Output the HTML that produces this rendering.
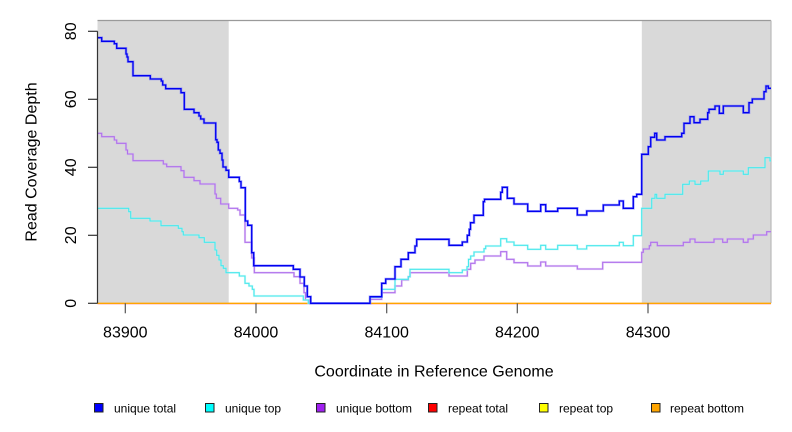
<!DOCTYPE html>
<html><head><meta charset="utf-8"><style>
html,body{margin:0;padding:0;background:#fff;}
svg{display:block;}
text{font-family:"Liberation Sans",Arial,sans-serif;fill:#000;}
</style></head><body>
<svg width="792" height="432" viewBox="0 0 792 432" xmlns="http://www.w3.org/2000/svg">
<rect x="0" y="0" width="792" height="432" fill="#fff"/>
<rect x="97.5" y="20.5" width="131.2" height="282.8" fill="#d9d9d9"/>
<rect x="641.8" y="20.5" width="129.2" height="282.8" fill="#d9d9d9"/>
<line x1="97.5" y1="20.5" x2="771" y2="20.5" stroke="#9a9a9a" stroke-width="1.2"/>
<line x1="771" y1="20.5" x2="771" y2="303.3" stroke="#bbbbbb" stroke-width="1.2"/>

<line x1="97.5" y1="304" x2="771" y2="304" stroke="#ff0000" stroke-opacity="0.3" stroke-width="1"/>
<line x1="97.5" y1="303.3" x2="771" y2="303.3" stroke="#ffa500" stroke-width="1.3"/>

<path fill="none" stroke="#d2b0f2" stroke-width="2.2" stroke-opacity="0.55" d="M97.5 133.3 H101.7 V136.7 H114.3 V140 H116.7 V143.3 H126 V150 H127.5 V154 H133 V160.7 H163.3 V164 H166.7 V166.7 H181 V170.7 H184 V177.3 H194 V180.7 H200 V184 H215 V194 H216.3 V198.3 H220.7 V204 H228.7 V208.3 H237.7 V210 H240 V215 H245 V242.3 H251.7 V258 H254.3 V272.7 H294 V276.7 H300 V283.3 H304 V292.7 H305.5 V300 H309 V303.3 H370 V299.3 H381.7 V292.7 H395 V286 H401.7 V280 H408.3 V276.7 H410 V272.7 H449 V276 H467.3 V269.3 H470.7 V263.3 H475 V260 H484 V256 H500.7 V251.7 H506.7 V259.3 H514 V262.7 H527.7 V266 H540.7 V262 H545.7 V266 H577.3 V269 H602.7 V262.3 H641.7 V252.3 H643.3 V249 H649.3 V245.7 H650.7 V242.3 H657.3 V245.7 H683.3 V242.3 H690 V239 H695 V242.3 H714 V239 H722.7 V242.3 H727.3 V239 H743.3 V242.3 H748 V239 H753.3 V235 H766.7 V231.7 H771"/>
<path fill="none" stroke="#b070ec" stroke-width="1.1" d="M97.5 133.3 H101.7 V136.7 H114.3 V140 H116.7 V143.3 H126 V150 H127.5 V154 H133 V160.7 H163.3 V164 H166.7 V166.7 H181 V170.7 H184 V177.3 H194 V180.7 H200 V184 H215 V194 H216.3 V198.3 H220.7 V204 H228.7 V208.3 H237.7 V210 H240 V215 H245 V242.3 H251.7 V258 H254.3 V272.7 H294 V276.7 H300 V283.3 H304 V292.7 H305.5 V300 H309 V303.3 H370 V299.3 H381.7 V292.7 H395 V286 H401.7 V280 H408.3 V276.7 H410 V272.7 H449 V276 H467.3 V269.3 H470.7 V263.3 H475 V260 H484 V256 H500.7 V251.7 H506.7 V259.3 H514 V262.7 H527.7 V266 H540.7 V262 H545.7 V266 H577.3 V269 H602.7 V262.3 H641.7 V252.3 H643.3 V249 H649.3 V245.7 H650.7 V242.3 H657.3 V245.7 H683.3 V242.3 H690 V239 H695 V242.3 H714 V239 H722.7 V242.3 H727.3 V239 H743.3 V242.3 H748 V239 H753.3 V235 H766.7 V231.7 H771"/>

<path fill="none" stroke="#b0f6f6" stroke-width="2.2" stroke-opacity="0.55" d="M97.5 208.3 H128.7 V211.7 H130.7 V218.3 H150 V221 H161 V225.7 H178.3 V228.3 H182 V231.7 H183.3 V235 H199 V237.7 H204.3 V242.3 H215 V250 H216.7 V255.3 H219 V260 H221 V265.7 H223.3 V268.3 H226 V272.7 H239.3 V276 H245 V283.3 H249 V286 H252.3 V289.3 H254 V296 H303.3 V300 H308.3 V303.3 H370 V297.3 H381.7 V289.3 H395 V279.3 H408.3 V276.7 H410 V269.3 H449 V272.7 H462.3 V270 H467 V266.7 H468.5 V259.3 H470.7 V256 H474 V252 H484 V248.7 H485.7 V246 H500.7 V238.7 H506.7 V242 H514 V245.3 H527.7 V249.3 H540.7 V245.3 H545.7 V249.3 H557.7 V245.3 H577.3 V249 H586.7 V245.7 H619.3 V242.3 H623.3 V245.7 H633.3 V235.7 H641.7 V208.3 H651.7 V198.3 H655 V194.3 H656.7 V198.3 H665 V194.3 H682.7 V184.3 H689.3 V181 H695 V184.3 H700.7 V181 H708.3 V171 H720 V174.3 H723.3 V171 H743.3 V174.3 H748.3 V167.7 H765 V157.7 H770 V161 H771"/>
<path fill="none" stroke="#48e8ec" stroke-width="1.1" d="M97.5 208.3 H128.7 V211.7 H130.7 V218.3 H150 V221 H161 V225.7 H178.3 V228.3 H182 V231.7 H183.3 V235 H199 V237.7 H204.3 V242.3 H215 V250 H216.7 V255.3 H219 V260 H221 V265.7 H223.3 V268.3 H226 V272.7 H239.3 V276 H245 V283.3 H249 V286 H252.3 V289.3 H254 V296 H303.3 V300 H308.3 V303.3 H370 V297.3 H381.7 V289.3 H395 V279.3 H408.3 V276.7 H410 V269.3 H449 V272.7 H462.3 V270 H467 V266.7 H468.5 V259.3 H470.7 V256 H474 V252 H484 V248.7 H485.7 V246 H500.7 V238.7 H506.7 V242 H514 V245.3 H527.7 V249.3 H540.7 V245.3 H545.7 V249.3 H557.7 V245.3 H577.3 V249 H586.7 V245.7 H619.3 V242.3 H623.3 V245.7 H633.3 V235.7 H641.7 V208.3 H651.7 V198.3 H655 V194.3 H656.7 V198.3 H665 V194.3 H682.7 V184.3 H689.3 V181 H695 V184.3 H700.7 V181 H708.3 V171 H720 V174.3 H723.3 V171 H743.3 V174.3 H748.3 V167.7 H765 V157.7 H770 V161 H771"/>

<path fill="none" stroke="#7070ff" stroke-width="2.6" stroke-opacity="0.6" d="M97.5 37.7 H101.7 V41.3 H114.3 V43.7 H116.7 V48.3 H126 V54 H127 V57 H128 V61.7 H133 V75.7 H150.3 V79 H161.3 V81 H162.7 V85 H165.7 V88.7 H181 V92.7 H184.3 V109.3 H194 V112.7 H199 V116 H200.7 V119 H204 V123 H215.7 V139.7 H217 V142.3 H218.3 V150 H220 V153.3 H222 V160 H223 V167 H226 V170.3 H228.7 V177.3 H239.3 V181.5 H241 V187.7 H245.3 V221 H247.7 V225.3 H251.7 V252.7 H253.7 V265.7 H293.3 V269.3 H300 V277 H304.3 V286 H307.3 V296.7 H310.7 V303.3 H370 V296.7 H381.7 V283.3 H385.7 V279 H395 V266.7 H401 V259.3 H408.3 V252.7 H415 V246 H416.7 V239.3 H449 V245.3 H462.3 V242 H467.3 V235.3 H469.3 V229.3 H470.5 V222.7 H474 V215.3 H483.3 V201.7 H484.5 V199.3 H500.7 V192.3 H502.3 V187.3 H507.3 V198.3 H514 V204 H527.7 V211.3 H540.7 V204.7 H545.7 V211.3 H557.7 V208.3 H577.3 V215 H586.7 V211 H603.3 V205 H619.3 V201 H623.3 V208.3 H633.3 V196.7 H636.7 V194.3 H641.7 V154.3 H648.3 V146.7 H650.7 V137.3 H654.7 V133.3 H656.7 V140 H665 V136.7 H681.7 V133.3 H684 V123.3 H690 V116.7 H694 V122.7 H700 V119.3 H707.7 V112.7 H709 V109.3 H715 V106 H719.3 V113.3 H723.3 V106 H743.3 V112.7 H749 V102.7 H752.3 V99 H764 V91.7 H766 V86 H768.3 V88.3 H771"/>
<path fill="none" stroke="#0000f0" stroke-width="1.3" d="M97.5 37.7 H101.7 V41.3 H114.3 V43.7 H116.7 V48.3 H126 V54 H127 V57 H128 V61.7 H133 V75.7 H150.3 V79 H161.3 V81 H162.7 V85 H165.7 V88.7 H181 V92.7 H184.3 V109.3 H194 V112.7 H199 V116 H200.7 V119 H204 V123 H215.7 V139.7 H217 V142.3 H218.3 V150 H220 V153.3 H222 V160 H223 V167 H226 V170.3 H228.7 V177.3 H239.3 V181.5 H241 V187.7 H245.3 V221 H247.7 V225.3 H251.7 V252.7 H253.7 V265.7 H293.3 V269.3 H300 V277 H304.3 V286 H307.3 V296.7 H310.7 V303.3 H370 V296.7 H381.7 V283.3 H385.7 V279 H395 V266.7 H401 V259.3 H408.3 V252.7 H415 V246 H416.7 V239.3 H449 V245.3 H462.3 V242 H467.3 V235.3 H469.3 V229.3 H470.5 V222.7 H474 V215.3 H483.3 V201.7 H484.5 V199.3 H500.7 V192.3 H502.3 V187.3 H507.3 V198.3 H514 V204 H527.7 V211.3 H540.7 V204.7 H545.7 V211.3 H557.7 V208.3 H577.3 V215 H586.7 V211 H603.3 V205 H619.3 V201 H623.3 V208.3 H633.3 V196.7 H636.7 V194.3 H641.7 V154.3 H648.3 V146.7 H650.7 V137.3 H654.7 V133.3 H656.7 V140 H665 V136.7 H681.7 V133.3 H684 V123.3 H690 V116.7 H694 V122.7 H700 V119.3 H707.7 V112.7 H709 V109.3 H715 V106 H719.3 V113.3 H723.3 V106 H743.3 V112.7 H749 V102.7 H752.3 V99 H764 V91.7 H766 V86 H768.3 V88.3 H771"/>

<g stroke="#333" stroke-width="1.2">
<line x1="97.5" y1="31.3" x2="97.5" y2="303.3"/>
<line x1="88" y1="303.3" x2="97.5" y2="303.3"/>
<line x1="88" y1="235.3" x2="97.5" y2="235.3"/>
<line x1="88" y1="167.3" x2="97.5" y2="167.3"/>
<line x1="88" y1="99.3" x2="97.5" y2="99.3"/>
<line x1="88" y1="31.3" x2="97.5" y2="31.3"/>
</g>
<g font-size="16" text-anchor="middle">
<text transform="translate(76,303.3) rotate(-90)">0</text>
<text transform="translate(76,235.3) rotate(-90)">20</text>
<text transform="translate(76,167.3) rotate(-90)">40</text>
<text transform="translate(76,99.3) rotate(-90)">60</text>
<text transform="translate(76,31.3) rotate(-90)">80</text>
<text transform="translate(36.5,162) rotate(-90)">Read Coverage Depth</text>
</g>

<g stroke="#555" stroke-width="1.2">
<line x1="125.3" y1="303.3" x2="125.3" y2="313.3"/>
<line x1="256" y1="303.3" x2="256" y2="313.3"/>
<line x1="386.7" y1="303.3" x2="386.7" y2="313.3"/>
<line x1="517.3" y1="303.3" x2="517.3" y2="313.3"/>
<line x1="648" y1="303.3" x2="648" y2="313.3"/>
</g>
<g font-size="16" text-anchor="middle">
<text x="125.3" y="337.5">83900</text>
<text x="256" y="337.5">84000</text>
<text x="386.7" y="337.5">84100</text>
<text x="517.3" y="337.5">84200</text>
<text x="648" y="337.5">84300</text>
<text x="434" y="376.7">Coordinate in Reference Genome</text>
</g>

<g stroke="#222" stroke-width="1">
<rect x="94.5" y="403.5" width="8.5" height="8.5" fill="#0000ff"/>
<rect x="205.5" y="403.5" width="8.5" height="8.5" fill="#00ffff"/>
<rect x="316.5" y="403.5" width="8.5" height="8.5" fill="#a020f0"/>
<rect x="428.5" y="403.5" width="8.5" height="8.5" fill="#ff0000"/>
<rect x="539.5" y="403.5" width="8.5" height="8.5" fill="#ffff00"/>
<rect x="651.5" y="403.5" width="8.5" height="8.5" fill="#ffa500"/>
</g>
<g font-size="12">
<text x="114" y="412.5">unique total</text>
<text x="225" y="412.5">unique top</text>
<text x="336" y="412.5">unique bottom</text>
<text x="448" y="412.5">repeat total</text>
<text x="559" y="412.5">repeat top</text>
<text x="670" y="412.5">repeat bottom</text>
</g>
</svg>
</body></html>
